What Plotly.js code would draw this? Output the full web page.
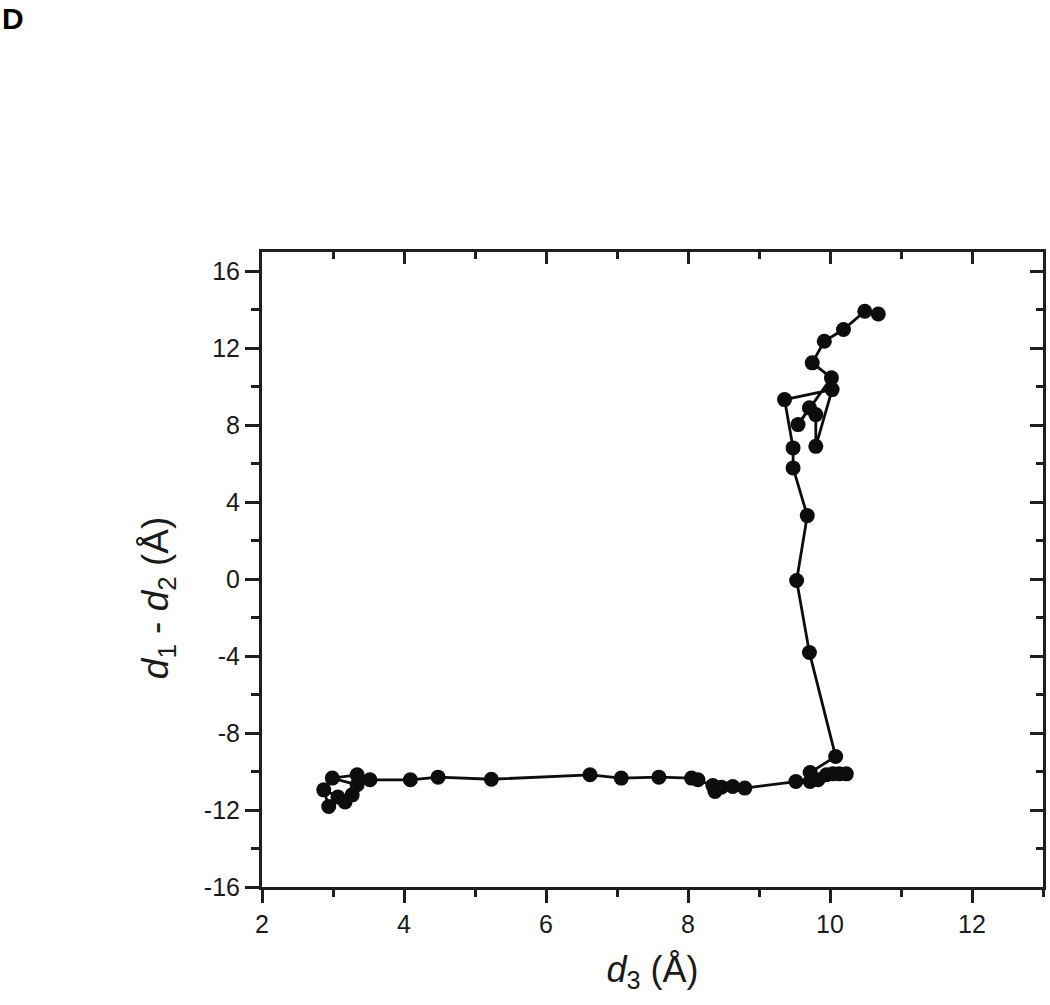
<!DOCTYPE html>
<html>
<head>
<meta charset="utf-8">
<script src="https://cdn.plot.ly/plotly-3.0.1.min.js"></script>
<style>
html,body{margin:0;padding:0;background:#fff;}
#chart{width:1050px;height:1005px;}
</style>
</head>
<body>
<div id="chart"></div>
<script>
// d3 (Å) values along the trajectory
const d3 = [2.94, 2.87, 3.07, 3.17, 3.27, 3.34, 2.99, 3.34, 3.52, 4.09,
            4.48, 5.23, 6.62, 7.06, 7.59, 8.05, 8.14, 8.35, 8.38, 8.47,
            8.63, 8.80, 9.52, 9.72, 9.95, 10.04, 10.13, 10.23, 9.83, 9.72,
            10.08, 9.71, 9.53, 9.68, 9.48, 9.48, 9.36, 10.03, 9.80, 9.80,
            9.71, 9.55, 10.02, 9.75, 9.92, 10.19, 10.49, 10.68];
// d1 - d2 (Å) values along the trajectory
const d1MinusD2 = [-11.82, -10.95, -11.32, -11.58, -11.21, -10.69, -10.34, -10.17, -10.43, -10.43,
                   -10.29, -10.40, -10.17, -10.34, -10.29, -10.34, -10.43, -10.73, -11.04, -10.81,
                   -10.78, -10.86, -10.52, -10.52, -10.17, -10.12, -10.12, -10.12, -10.43, -10.05,
                   -9.22, -3.81, -0.07, 3.30, 5.78, 6.82, 9.33, 9.85, 6.90, 8.55,
                   8.90, 8.03, 10.46, 11.24, 12.36, 12.97, 13.92, 13.78];

const xTickVals = [2, 4, 6, 8, 10, 12];
const xTickText = ['2', '4', '6', '8', '10', '12'];
const yTickVals = [-16, -12, -8, -4, 0, 4, 8, 12, 16];
const yTickText = ['-16', '-12', '-8', '-4', '0', '4', '8', '12', '16'];

const xTitle = '<i>d</i><sub>3</sub> (Å)';
const yTitle = '<i>d</i><sub>1</sub> - <i>d</i><sub>2</sub> (Å)';
const panelLabel = '<b>D</b>';

const xRange = [2, 13];
const yRange = [-16, 17];

const FONT = 'Liberation Sans, Arial, Helvetica, sans-serif';
const INK = '#0d0d0d';
const AX = '#1e1e1e';
const TXT = '#1a1a1a';

const traces = [
  {
    x: d3, y: d1MinusD2,
    type: 'scatter', mode: 'lines+markers',
    line: {color: INK, width: 2.8},
    marker: {color: INK, size: 15, line: {width: 0}},
    hoverinfo: 'x+y',
    showlegend: false
  },
  {
    x: d3, y: d1MinusD2,
    xaxis: 'x2', yaxis: 'y2',
    type: 'scatter', mode: 'markers',
    marker: {opacity: 0},
    hoverinfo: 'skip',
    showlegend: false
  }
];

const layout = {
  width: 1050, height: 1005,
  margin: {l: 262, r: 7, t: 252, b: 118},
  paper_bgcolor: '#ffffff', plot_bgcolor: '#ffffff',
  font: {family: FONT, color: INK},
  showlegend: false,
  xaxis: {
    range: xRange, tickmode: 'array', tickvals: xTickVals, ticktext: xTickText,
    ticks: 'outside', ticklen: 13, tickwidth: 3, tickcolor: AX,
    minor: {ticks: 'outside', ticklen: 7, tickwidth: 3, tickcolor: AX, dtick: 1, tick0: 1, showgrid: false},
    showline: true, linewidth: 3, linecolor: AX, mirror: false,
    showgrid: false, zeroline: false,
    tickfont: {family: FONT, size: 25, color: TXT},
    title: {text: xTitle, font: {family: FONT, size: 36, color: TXT}, standoff: 20}
  },
  yaxis: {
    range: yRange, tickmode: 'array', tickvals: yTickVals, ticktext: yTickText,
    ticks: 'outside', ticklen: 14, tickwidth: 3, tickcolor: AX,
    minor: {ticks: 'outside', ticklen: 8, tickwidth: 3, tickcolor: AX, dtick: 2, tick0: 0, showgrid: false},
    showline: true, linewidth: 3, linecolor: AX, mirror: false,
    showgrid: false, zeroline: false,
    tickfont: {family: FONT, size: 25, color: TXT}
  },
  xaxis2: {
    overlaying: 'x', side: 'top', anchor: 'y2', range: xRange,
    tickmode: 'array', tickvals: xTickVals,
    ticks: 'inside', ticklen: 12, tickwidth: 3, tickcolor: AX,
    minor: {ticks: 'inside', ticklen: 7, tickwidth: 3, tickcolor: AX, dtick: 1, tick0: 1, showgrid: false},
    showticklabels: false, showline: true, linewidth: 3, linecolor: AX,
    showgrid: false, zeroline: false
  },
  yaxis2: {
    overlaying: 'y', side: 'right', anchor: 'x2', range: yRange,
    tickmode: 'array', tickvals: yTickVals,
    ticks: 'inside', ticklen: 13, tickwidth: 3, tickcolor: AX,
    minor: {ticks: 'inside', ticklen: 7, tickwidth: 3, tickcolor: AX, dtick: 2, tick0: 0, showgrid: false},
    showticklabels: false, showline: true, linewidth: 3, linecolor: AX,
    showgrid: false, zeroline: false
  },
  annotations: [
    {
      text: yTitle, xref: 'paper', yref: 'paper',
      x: -0.133, y: 0.455, xanchor: 'center', yanchor: 'middle',
      textangle: -90, showarrow: false,
      font: {family: FONT, size: 37, color: TXT}
    },
    {
      text: panelLabel, xref: 'paper', yref: 'paper',
      x: -0.3342, y: 1.396, xanchor: 'left', yanchor: 'top',
      showarrow: false, borderpad: 0,
      font: {family: FONT, size: 30, color: '#000'}
    }
  ]
};

Plotly.newPlot('chart', traces, layout, {displayModeBar: false, staticPlot: true});
</script>
</body>
</html>
